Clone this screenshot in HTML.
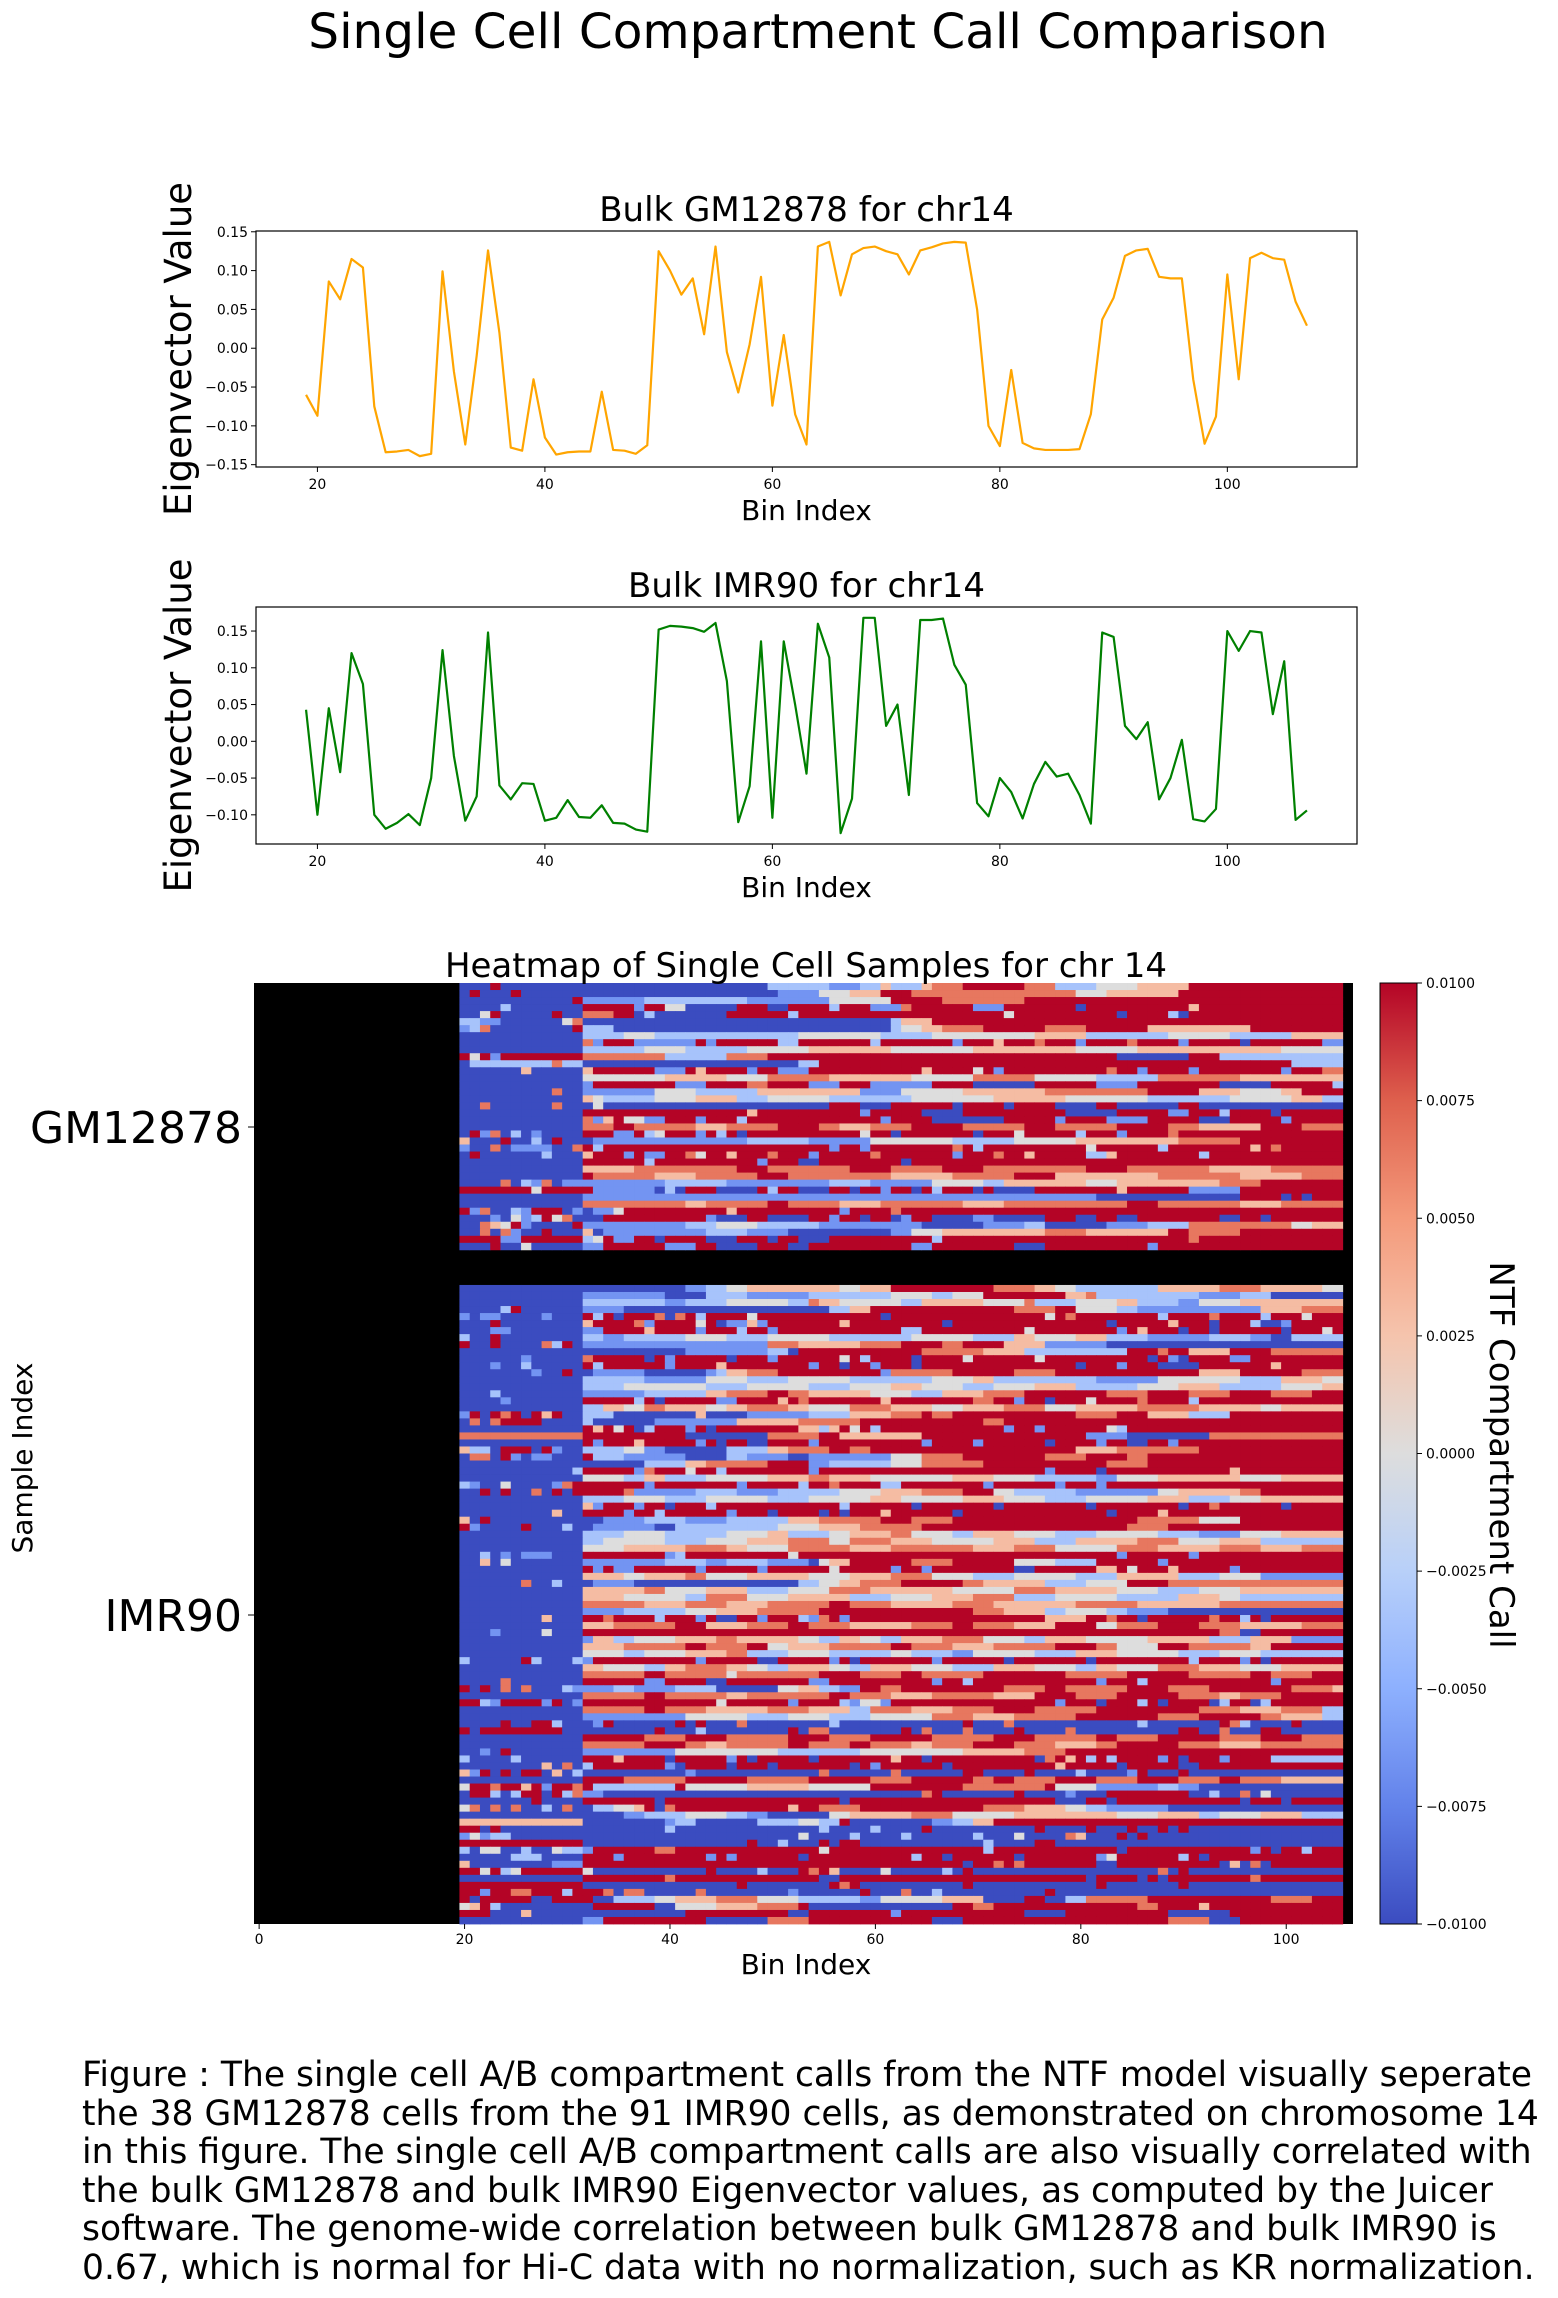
<!DOCTYPE html>
<html><head><meta charset="utf-8">
<style>
html,body{margin:0;padding:0;background:#fff;}
svg{display:block;font-family:"DejaVu Sans","Liberation Sans",sans-serif;}
</style></head>
<body>
<svg id="fig" width="1558" height="2298" viewBox="0 0 1558 2298" xmlns="http://www.w3.org/2000/svg">
<rect x="0" y="0" width="1558" height="2298" fill="#fff"/>
<text x="818" y="48" font-size="48.5" text-anchor="middle">Single Cell Compartment Call Comparison</text>
<g id="c1"></g>
<g id="c2"></g>
<g id="hm"></g>
<g id="cb"></g>
<g font-size="34.5">
<text x="82" y="2086">Figure : The single cell A/B compartment calls from the NTF model visually seperate</text>
<text x="82" y="2125">the 38 GM12878 cells from the 91 IMR90 cells, as demonstrated on chromosome 14</text>
<text x="82" y="2163">in this figure. The single cell A/B compartment calls are also visually correlated with</text>
<text x="82" y="2202">the bulk GM12878 and bulk IMR90 Eigenvector values, as computed by the Juicer</text>
<text x="82" y="2240">software. The genome-wide correlation between bulk GM12878 and bulk IMR90 is</text>
<text x="82" y="2279">0.67, which is normal for Hi-C data with no normalization, such as KR normalization.</text>
</g>
</svg>
<script>
const binsStart = 19;
const gmValues = [-0.06,-0.087,0.086,0.063,0.115,0.104,-0.075,-0.134,-0.133,-0.131,-0.139,-0.136,0.099,-0.03,-0.124,-0.01,0.126,0.02,-0.128,-0.132,-0.04,-0.115,-0.137,-0.134,-0.133,-0.133,-0.056,-0.131,-0.132,-0.136,-0.125,0.125,0.1,0.069,0.09,0.018,0.131,-0.005,-0.057,0.005,0.092,-0.074,0.017,-0.085,-0.124,0.131,0.137,0.068,0.121,0.129,0.131,0.125,0.121,0.095,0.126,0.13,0.135,0.137,0.136,0.05,-0.1,-0.126,-0.028,-0.122,-0.129,-0.131,-0.131,-0.131,-0.13,-0.085,0.037,0.065,0.119,0.126,0.128,0.092,0.09,0.09,-0.04,-0.123,-0.088,0.095,-0.04,0.116,0.123,0.116,0.114,0.06,0.029];
const imrValues = [0.043,-0.1,0.045,-0.042,0.12,0.078,-0.1,-0.119,-0.111,-0.099,-0.114,-0.05,0.124,-0.02,-0.108,-0.075,0.148,-0.06,-0.079,-0.057,-0.058,-0.108,-0.104,-0.08,-0.103,-0.104,-0.087,-0.111,-0.112,-0.12,-0.123,0.152,0.157,0.156,0.154,0.149,0.161,0.082,-0.11,-0.061,0.136,-0.104,0.136,0.05,-0.044,0.16,0.114,-0.125,-0.078,0.168,0.168,0.021,0.05,-0.073,0.165,0.165,0.167,0.104,0.077,-0.084,-0.102,-0.05,-0.069,-0.105,-0.058,-0.028,-0.048,-0.044,-0.073,-0.112,0.148,0.142,0.021,0.003,0.026,-0.079,-0.05,0.002,-0.106,-0.109,-0.092,0.15,0.123,0.15,0.148,0.037,0.109,-0.107,-0.094];
const lineXTicks = [20,40,60,80,100];
const gmYTicks = [-0.15,-0.10,-0.05,0.00,0.05,0.10,0.15];
const imrYTicks = [-0.10,-0.05,0.00,0.05,0.10,0.15];
const heatXTicks = [0,20,40,60,80,100];
const cbTicks = [-0.01,-0.0075,-0.005,-0.0025,0,0.0025,0.005,0.0075,0.01];
const codeValues = {B:-0.01,b:-0.0065,l:-0.0035,w:0,p:0.003,o:0.0065,R:0.01};
const gmRows = [
"B3 R1 B26 l6 b3 l2 p1 l3 p1 o3 R6 o3 l4 w4 p5 R15",
"B1 R1 B3 R1 B25 b4 w3 p3 R3 o16 w3 p7 R16",
"B11 R1 b6 l10 b8 w6 R5 o8 R31",
"B4 l1 B7 R5 b1 R2 w2 B5 R3 B2 R4 l1 R3 b3 o1 R4 R2 b3 R7 B1 R10 p1 R14",
"B2 w1 R1 B5 R1 B2 o3 R2 B1 l1 B7 R6 l1 R20 w1 R10 B1 R4 l1 B1 R14",
"l2 b2 B6 w1 o1 B30 l1 p3 R41",
"b1 l1 o1 B8 R1 l3 B27 l1 w2 p2 o4 R6 o4 R6 p10 R9",
"B12 l4 w3 l14 w8 l5 w10 p5 l8 w6 l6 p5",
"B12 o1 b1 R3 b6 R1 b1 R6 l2 R7 l1 R7 b1 R3 p1 R3 o1 R3 b1 R4 o1 R4 b1 R5 B1 R7 b1",
"B12 l6 w4 l6 w6 p8 w8 p10 w6 p14 w6",
"R1 w1 R1 b1 R8 o8 l6 o4 R34 B7 R3 l12",
"B1 l8 o1 l2 B21 l2 R46 l5",
"B6 p1 B5 p1 R6 b3 R1 p1 R4 b1 R2 b3 R11 p1 R4 w1 R1 b1 R10 o1 R2 b1 R4 b1 R8 b1 R3 o1",
"B12 w8 p6 w4 o6 p8 w6 o6 w6 l6 o8 p10",
"B12 b1 R8 b3 R4 o2 R4 b3 R3 b6 R4 B6 R6 b4 R8 B5 R6 l1",
"B9 o1 B2 b7 w4 l6 p10 b4 w6 p8 o10 R5 p4 w4 p2 R4",
"B12 p1 w1 l5 w4 p4 l3 w6 l8 w8 p7 w8 l8 w6 p3 l2",
"B2 o1 B1 B5 o1 B2 B1 w1 B22 R3 B3 R6 B1 R4 B1 R4 B4 R2 B6 R2 B14",
"B12 R16 p1 R10 b1 R5 B4 R10 B5 R5 b2 R3 l1 R4 B1 R6",
"B12 o1 b1 p1 R1 w2 b2 R3 b1 R3 l1 R13 b1 R4 B7 R5 b1 R4 b4 R5 B3 R5 b1 R5",
"B12 o3 R2 o6 p3 o5 R4 o2 p3 o4 R5 o6 R3 o6 R5 o3 p6 R4 o4",
"B1 R1 b1 o1 B1 l1 B1 b1 B4 R3 b2 R1 l1 w1 R3 b1 R1 l1 R1 B1 R11 w1 R2 B1 R7 B1 R3 w1 R5 l1 R3 b1 R4 o1 R11",
"p1 B3 R1 B2 l1 B1 R1 B3 b15 l6 b6 w8 l6 w6 p10 o6 R11 o5 R6",
"b1 B2 o1 B1 b4 B2 o1 R1 l1 R22 b1 R2 b1 R8 o1 R1 l1 R10 w1 R6 l1 R8 p1 R1 o1 R5",
"B1 R1 B6 l1 B3 p1 R3 b1 R1 b2 R2 o1 w1 R2 p1 R3 o1 R3 b1 R5 o1 R7 b1 R3 o1 R2 p1 R5 l2 p1 R8 l1 R5",
"B12 R6 l1 R10 b1 R3 B2 R8 B1 R43",
"B12 p5 o10 R3 o8 R4 o5 R4 o10 R4 o8 p6 o7",
"B12 R1 o6 p4 o6 R3 o10 p6 o6 R4 p10 o8 p6 o4",
"B4 o1 B1 l1 b1 o1 B1 b2 b8 l6 b10 l4 b6 w5 l2 p8 w3 p10 o4 R3",
"R7 w1 R5 b6 B1 l1 B1 R3 B4 R1 l1 R2 B3 R2 B1 R2 b1 R2 B1 R1 l1 R3 B1 R1 B4 R8 p1 R6 b5 R6",
"B12 b50 B14 R4 B1 R1 B1 R3",
"B12 o10 p2 o6 R2 o5 p4 o8 p4 o12 R3 o8 p4 o6",
"R1 b1 o1 B2 l1 b1 R3 B1 b1 B1 b2 w1 R10 p1 R10 b1 R4 o1 R41",
"B3 b1 B1 w1 b1 l1 R1 w1 o1 B1 B2 R2 R8 b1 B3 R2 B4 R2 b1 R2 B1 R2 B1 b1 R2 B4 b2 B5 R3 B2 R2 B2 R8 B2 R2 B1 R8",
"B2 o1 p1 w1 R1 b1 B4 R1 b10 l3 w4 l6 b10 B6 b4 l2 B6 b4 l4 o10 w2 p4",
"B2 o1 B1 o1 b1 B2 R1 B3 p1 B1 b10 l4 b4 B10 b2 w3 p10 o4 p8 R2 o5 R7",
"R4 b2 R6 l1 w1 R1 b2 R2 B1 R4 B3 R3 B1 R2 B3 R10 l1 R24 o1 R10",
"B3 R1 B2 w1 B5 b2 R6 b3 R2 B4 R3 B2 R10 b2 R8 B3 R10 b1 R20"
];
const imrRows = [
"B12 B10 b2 l2 w2 p9 w2 p3 R10 o4 p2 w2 l8 p6 o4 p6 w6 l2",
"B12 b8 B4 l4 b6 l8 w4 l2 w3 R8 p2 o1 l10 b4 l3 B7",
"B12 l8 b2 l4 w6 l2 o1 p2 w6 l2 p6 w4 o1 l4 w4 p2 l4 b2 w4 p4 p6",
"B4 l1 R1 B6 b4 B20 l2 p2 R14 o4 R2 w4 l2 b12 p4 o4",
"b1 B1 b2 B4 b1 B3 R1 l1 R1 B1 R3 o1 B1 o1 R1 l1 R4 w1 R12 B1 R15 w1 R1 o1 R8 l1 R4 o1 R4 l1 R3 w1 R7",
"B3 R1 B8 p1 R4 o1 b1 R4 w1 R1 B1 b2 p1 b1 R7 p1 R9 B1 R15 B1 R5 p1 R3 B1 R3 l1 B2 b1 R5",
"B3 b2 B7 b2 R4 p1 R4 b1 R3 l1 R2 b1 R12 l2 R10 w1 R8 b1 R1 p1 R3 B1 R2 B1 R6 B1 R3 w1 R1 B1 R1 p1 R2",
"l1 B2 R1 B8 l2 b2 l6 w4 l4 w6 l8 w6 l4 p2 w4 p3 l4 b6 l4 b2 B2 l5",
"R1 B2 R1 B4 o1 l1 R1 B1 b18 o3 p6 o4 R4 o2 R4 p4 b6 B25",
"B12 B10 b8 l2 B1 R12 o6 p4 l10 R3 o1 R2 p4 R4 o7",
"B6 b1 B5 o1 R5 B1 R1 b1 R5 B1 R3 b1 R6 w1 R1 l1 R4 B1 R4 w1 R6 w1 R10 B1 R1 b1 B1 R4 b2 R10 b1 R3 B1",
"B3 b1 B2 l1 B5 R1 l1 R6 b1 R4 p1 R8 b1 R2 B1 R2 b1 R3 B1 R15 B1 R3 b1 R3 B4 R7 p1 R5",
"B7 b1 B2 R1 B2 b5 B6 b1 l1 p2 o3 R10 b1 o6 R6 o4 R14 p4 R6 o4",
"B12 l6 b6 w4 l4 w6 l8 w4 p2 l10 b6 w8 l4 p4 w2",
"B12 l4 w8 l4 w6 l4 w4 p3 w4 l3 w4 p4 l6 w4 p4 l6 w4 p2",
"B3 l1 B8 b6 l6 p2 o4 R2 o2 p6 w4 l3 p4 o4 R8 o4 R4 o4 R4 o4 R3",
"B4 b1 B7 R5 l1 R1 B1 R5 b2 R4 p1 R1 o1 R7 p1 R8 o2 R2 b1 R2 B1 R3 w1 R4 o1 R4 l1 R4",
"B12 l2 p2 w2 o2 p4 w2 p2 o4 p2 w4 o4 p4 w3 p4 o4 w3 p6 o6 p6 w2 p6",
"b1 R1 B1 R1 o1 R1 B1 R1 p1 R1 B2 l3 B8 p1 B4 b6 l4 p4 o3 R1 o2 R12 o4 R3 p4 l4 R10",
"B1 o1 B1 o1 R4 B4 l1 B6 b8 p6 o6 R12 o2 R33",
"B12 R1 p1 R1 w1 R1 B1 l1 R3 b1 R1 B1 R8 p2 l1 p1 R1 w1 R1 l1 R12 b1 R2 b1 R6 w1 l1 R12",
"o12 R10 B8 o5 R2 p8 R16 b4 B8 o13",
"B12 R1 b1 R3 p1 R5 b1 R1 B1 R2 B2 R4 b1 R10 b1 R4 b1 R6 B1 R4 b1 R2 B2 R2 b1 R12",
"p1 l2 B1 R3 B1 R1 b1 B2 l4 w2 b2 B6 l4 p2 o4 R2 o2 R20 p4 o8 R14",
"B1 o2 B1 R1 b1 B1 b2 B3 R1 l3 b6 B4 l2 b4 B2 b8 w3 o4 R8 o4 R4 o2 R19",
"B12 B6 l4 p2 o6 R4 b2 l6 w3 o6 R12 o4 R17",
"B11 l1 R5 b1 o1 R3 w1 R2 l1 R8 b1 R22 b1 R4 B1 R12 p1 R6",
"B12 w4 l2 p2 l4 w6 p4 o2 p4 w8 p4 w4 l6 b2 w4 p8 w4 p7",
"l1 b1 B2 w1 B4 b1 o1 R7 b1 R8 b1 R5 l1 R2 o1 R3 R1 l2 R8 b1 R6 b1 R3 b1 R25",
"B2 R1 B1 R1 B2 o1 B1 R1 B1 R5 o1 b6 l4 b4 l6 w4 p4 o4 R3 w2 l6 b8 w2 p6 o2 R6",
"B12 l4 w4 l4 w6 l4 w6 p3 w6 p4 w4 l4 w6 p4 l4 w3 p4",
"B12 p1 b1 R3 b1 R2 B1 R3 l1 R12 l1 R6 B1 R7 B1 R8 B1 R8 B1 R2 o1 R6 B1 R5",
"B9 p1 B2 R4 b1 R2 l1 R6 b1 R3 B1 R4 B1 R1 B1 R3 p1 R6 B1 R14 B1 R4 p1 R14",
"p1 B1 R1 B9 B2 b4 l4 b4 l6 p3 o6 R3 o4 R18 o6 w4 R10",
"R1 b1 B4 R1 B3 l1 B2 b6 B2 l10 w4 p4 o6 R20 o4 R17",
"B12 l4 w4 l6 w4 p2 l4 w2 p4 o2 w4 l2 p4 w4 l4 w6 l4 b4 w4 p4",
"B12 l2 w6 l4 w4 p4 o4 w2 o4 p4 w6 p4 l4 p6 o4 w4 p4 l4",
"B12 w4 p6 o4 p2 w4 o6 p4 o8 p4 o4 w6 o4 p6 o4 p4 o4",
"B2 l1 B1 b1 B1 b3 B3 R8 b1 l1 R10 w1 R19 R12 b1 R6 b1 R4",
"B2 p1 B1 w1 B7 b8 l4 b2 l4 b4 B1 w1 p2 R6 o4 R6 w4 l4 R6 b1 R22",
"B12 R1 b1 R1 b2 R6 b1 R5 b1 R6 w1 R5 b1 R2 b1 R8 B2 R6 p2 R1 w1 R3 p1 R5 b1 R3",
"B12 p4 w2 p4 o2 w4 p6 w4 p4 o4 w4 l4 w6 l4 p6 l4 w4 b2",
"B6 o1 B2 l1 B3 b4 B16 l2 w2 p2 o4 R6 o2 p6 l4 w4 R4 o18",
"B12 p6 o2 w4 p4 l4 w4 o4 p8 w6 o4 p6 w4 l4 w4 p4",
"B12 p4 w6 l2 o4 w4 p6 l4 w4 p4 o4 l4 w6 l6 p4 w2 l2",
"B12 o6 p4 o4 p4 o6 R2 o4 p6 o4 p8 o6 p8 o2",
"B12 b4 l6 w3 p4 o6 R15 o3 p4 l2 w4 l2 b4 B17",
"B8 p1 B3 R2 o1 R4 l1 R3 b1 R1 B2 R2 b1 R3 l1 b1 o1 R1 b1 R19 p4 R2 o1 R2 B1 R6 o1 R2 l1 R1 B1 R2",
"B12 p3 o6 R3 p4 o4 R2 o4 p6 o4 R2 o4 p4 R4 w2 o4 R4 o4 p6 o7",
"B3 b1 B4 w1 B3 R62 o2 B2 R9",
"B12 b1 p2 l2 w4 p4 o2 p6 w2 l2 p2 w2 l2 p4 o4 w4 l2 p4 w6 p6 l4 p4 b1",
"B12 p4 o6 R2 o4 R2 w2 p4 o6 R2 o4 p4 o6 R4 o2 w4 R3 o6 p2 R4",
"B12 w4 l2 w4 p4 o2 l4 w4 l6 w2 l4 b2 w6 l4 p4 w6 l4 w4 l2",
"l1 B5 R1 l1 B3 l1 b1 R10 b1 R5 B2 R5 b1 R1 B1 R7 b1 R6 B1 R7 B1 R9 l1 R4 b1 R1 B1 R15",
"B12 p2 w4 l2 p2 o4 p2 w2 l2 p4 w2 l2 p4 w4 l4 p4 w4 l2 p2 w4 o4 p4 w4 p2",
"B12 o6 R2 o6 w1 o8 R4 o4 R2 o6 R8 o6 R6 o6 R2 o4 R3",
"B4 o1 B7 R6 b2 R4 B2 R8 b2 R10 b1 R2 l1 R12 b1 R3 l1 R12 b1 R6 B2",
"R1 B1 R1 B1 o1 B1 o1 B3 l1 b4 l2 b4 l4 B6 w2 p2 l2 b2 R2 o2 R10 o4 R2 o6 R4 o4 R8 o4 p4",
"B12 o6 R2 o6 p2 o8 R2 o4 p4 o6 p4 R4 o4 R6 o4 p2 o4 R4",
"R2 l1 b1 R4 b1 R1 B1 b1 R13 w1 R6 b1 R4 l1 b1 w2 b1 R16 b1 R3 B1 R3 l1 R1 B1 R4 B1 l1 R2 B1 l1 R8",
"B12 o6 R2 o4 p6 o4 p4 l2 o4 p4 o4 R4 o6 R2 R8 o4 p4 o4 l2",
"B12 b10 w6 l4 w4 l4 w6 o4 p4 o6 R8 o4 R6 o2 p4 l2",
"B4 R1 B2 R2 l1 B3 b1 R1 B6 R1 B1 R1 B3 o1 B8 l1 B12 R1 B3 o1 B4 B8 l1 B7 R1 o1 l1 B4 R1 B5",
"R1 B1 R8 B2 B7 R1 B3 l1 B8 R1 B1 o2 B7 R1 B1 o1 B3 o1 B4 R1 B4 o1 B10 R2 B2 o1 B3 R2 B4",
"B12 R6 o4 R4 o6 R4 o4 R6 o6 R4 o6 R2 o4 R6 o4 R4 o4",
"B12 o6 R4 o2 p2 o6 R2 o4 R2 o4 p2 o4 R4 o4 p4 o2 R6 o4 p4 o2",
"B2 b1 B1 R1 B7 b9 w10 l8 w10 p6 o4 R27",
"l1 B4 l1 B6 R3 p1 R4 B1 R5 b1 R1 B1 R5 B1 R7 p1 R2 B1 R10 B1 o1 R1 p1 R1 l1 R1 l1 R4 b1 R1 B1 R3 b1 R4 l1",
"B8 p1 B1 o1 B1 l1 R7 b1 B1 R4 B1 R3 B1 R7 B1 R1 b1 R6 B1 R10 p1 R5 B1 R5 B2 R9",
"p1 b1 R1 B1 R1 B1 R2 B1 p1 B1 l1 B10 b1 B12 o1 B6 o1 B6 R2 B4 R1 B4 l1 B4 b1 R1 B3 R1 B6",
"B12 R4 o6 R6 o6 R6 o4 R6 o2 R2 o4 R4 o4 R4 o4 R2 o4 p2",
"w1 R2 o1 R2 p1 R1 b1 R2 o1 R1 l8 R1 w6 p6 w6 R9 o8 R1 w4 b6 l2 b2 B10",
"B1 R2 l1 B1 l1 R2 B1 R1 l1 o1 b2 B7 B24 o1 R1 B7 R1 B4 b1 B3 R8 B2 l1 B2 o1 B1 w1 B4",
"B7 R1 B4 R7 B1 R17 B1 R20 B3 R2 B1 R12 B1 R3 B1 R6 B1",
"w1 o1 B1 o1 B1 o1 B2 l1 B1 o1 B2 l2 w2 p1 R1 B1 o1 R11 p1 R2 o4 R12 o4 p4 w2 l2 b6 B12",
"B12 B4 b2 l4 w4 l2 b2 B6 w2 p6 o4 w6 p10 w4 p4 l2 w4 p4 l2",
"p12 B8 b1 l2 B6 l4 w2 l2 R1 B8 b2 l2 p2 R36",
"R2 B1 R1 B8 B8 l1 B14 l1 B4 l1 B4 R1 B10 R1 B4 R1 B3 R1 B2 R1 B1 R1 B2",
"b1 w1 b1 l2 B6 B12 B10 w1 B4 l1 B4 l1 B6 l1 B3 w1 B4 o1 p1 B3 R1 B1 R1 B15",
"R12 B16 R1 B2 l1 B3 R1 B1 R2 B12 l1 B4 R2 B28",
"l1 B1 w2 B2 l1 B2 w1 l2 b1 R6 o2 R14 w1 R15 l1 R12 B1 R12 b1 R1 B1 R2 l1 R1",
"B5 l3 B4 R3 b1 R8 b1 R1 b1 R6 B1 R10 l1 R2 B1 R6 B1 R7 b1 w1 R6 l1 R1 B1 R11",
"p1 B8 b3 R37 B1 R2 o1 R1 o1 R7 B2 R10 B1 p1 B1 o1 B1 R4 R4",
"R2 w1 R1 l1 w1 R6 w1 B11 R1 B4 l1 B3 R1 o1 R1 p1 B4 w1 B5 l1 B1 R1 B18 o1 B1 R1 B14",
"B12 R8 o1 R14 B2 R1 R23 B1 R4 B1 R1 B1 R8 o1 R8",
"R12 B15 R1 B8 R1 o1 R1 B10 R1 B12 R1 B7 R1 B15",
"R2 b1 R2 o2 R3 l1 R3 o1 B1 o2 B5 o1 B8 b1 B6 R1 B3 o1 B2 l1 B10 R1 B30",
"R1 B1 R5 B2 R4 B2 l4 w2 p4 o4 w4 l6 b2 w6 p4 B4 R2 B2 l2 o2 o4 R12 o4 R6",
"w1 p1 R1 l1 B5 B4 R6 B2 w4 p4 o4 R1 B14 R2 o2 R14 o2 R4 p1 R13",
"R3 B3 p1 B5 B10 R10 B2 R8 b1 R12 B4 R10 B6 R11",
"B12 b2 R10 B6 o4 R12 B3 R20 o4 B3 R10"
];
</script>
<script>
const NS = "http://www.w3.org/2000/svg";
function mk(parent, tag, attrs, text){
  const e = document.createElementNS(NS, tag);
  for (const k in attrs) e.setAttribute(k, attrs[k]);
  if (text !== undefined) e.textContent = text;
  parent.appendChild(e);
  return e;
}
function fmt(v, d){ const s = Math.abs(v).toFixed(d); return (v < -1e-12 ? "\u2212" : "") + s; }

function lineChart(g, vals, color, box, ylim, yticks, title){
  const xmin = 14.6, xmax = 111.4;
  const xs = v => box.l + (v - xmin) / (xmax - xmin) * (box.r - box.l);
  const ys = v => box.b - (v - ylim[0]) / (ylim[1] - ylim[0]) * (box.b - box.t);
  const pts = vals.map((v, i) => xs(binsStart + i).toFixed(2) + "," + ys(v).toFixed(2)).join(" ");
  const pl = mk(g, "polyline", {points: pts, fill: "none", stroke: color, "stroke-width": 2.2, "stroke-linejoin": "round"});
  
  
  const fr = mk(g, "rect", {x: box.l, y: box.t, width: box.r - box.l, height: box.b - box.t, fill: "none", stroke: "#000", "stroke-width": 1.2});
  
  
  lineXTicks.forEach(t => {
    const x = xs(t);
    mk(g, "line", {x1: x, x2: x, y1: box.b, y2: box.b + 5, stroke: "#000", "stroke-width": 1});
    const tl = mk(g, "text", {x: x, y: box.b + 22, "font-size": 14, "text-anchor": "middle"}, String(t));
    
    
  });
  yticks.forEach(t => {
    const y = ys(t);
    mk(g, "line", {x1: box.l - 5, x2: box.l, y1: y, y2: y, stroke: "#000", "stroke-width": 1});
    const tl = mk(g, "text", {x: box.l - 8, y: y + 5, "font-size": 14, "text-anchor": "end"}, fmt(t, 2));
    
    
  });
  const tt = mk(g, "text", {x: (box.l + box.r) / 2, y: box.t - 10, "font-size": 34, "text-anchor": "middle"}, title);
  
  
  const xl = mk(g, "text", {x: (box.l + box.r) / 2, y: box.b + 53, "font-size": 28, "text-anchor": "middle"}, "Bin Index");
  
  
  const cy = (box.t + box.b) / 2;
  const yl = mk(g, "text", {x: 0, y: 0, "font-size": 37, "text-anchor": "middle", transform: "translate(191," + cy + ") rotate(-90)"}, "Eigenvector Value");
  
  
}
lineChart(document.getElementById("c1"), gmValues, "#ffa500", {l: 256, r: 1357, t: 231, b: 467}, [-0.153, 0.151], gmYTicks, "Bulk GM12878 for chr14");
lineChart(document.getElementById("c2"), imrValues, "#008000", {l: 256, r: 1357, t: 607, b: 844}, [-0.1397, 0.1827], imrYTicks, "Bulk IMR90 for chr14");

const cw = [[59,76,192],[98,130,234],[141,176,254],[184,208,249],[221,221,221],[245,196,173],[244,154,123],[222,96,77],[180,4,38]];
function cmap(v){
  let t = (v + 0.01) / 0.02; t = Math.max(0, Math.min(1, t));
  const p = t * 8, i = Math.min(7, Math.floor(p)), f = p - i;
  const a = cw[i], b = cw[i + 1];
  return "rgb(" + [0,1,2].map(k => Math.round(a[k] + (b[k] - a[k]) * f)).join(",") + ")";
}
function decode(s){
  const out = [];
  s.trim().split(/\s+/).forEach(tok => {
    const c = tok[0], n = parseInt(tok.slice(1), 10);
    for (let i = 0; i < n; i++) out.push(codeValues[c]);
  });
  while (out.length < 86) out.push(out[out.length - 1]);
  return out.slice(0, 86);
}
const hm = document.getElementById("hm");
const H = {l: 254, r: 1353, t: 983, b: 1924};
const nCols = 107, nRows = 134;
const cx = c => H.l + (c + 0.5) / nCols * (H.r - H.l);
const cw_ = (H.r - H.l) / nCols;
const rh = (H.b - H.t) / nRows;
const bg = mk(hm, "rect", {x: H.l, y: H.t, width: H.r - H.l, height: H.b - H.t, fill: "#000"});


function drawRows(rows, startRow, count){
  for (let r = 0; r < count; r++){
    const vals = decode(rows[Math.min(r, rows.length - 1)]);
    const y = H.t + (startRow + r) * rh;
    vals.forEach((v, j) => {
      const c = 20 + j;
      const cell = mk(hm, "rect", {x: (cx(c) - cw_ / 2).toFixed(2), y: y.toFixed(2), width: (cw_ + 0.4).toFixed(2), height: (rh + 0.4).toFixed(2), fill: cmap(v)});
      
      
    });
  }
}
drawRows(gmRows, 0, 38);
drawRows(imrRows, 43, 91);
heatXTicks.forEach(t => {
  const x = cx(t);
  mk(hm, "line", {x1: x, x2: x, y1: H.b, y2: H.b + 5, stroke: "#000", "stroke-width": 1});
  const tl = mk(hm, "text", {x: x, y: H.b + 20, "font-size": 14, "text-anchor": "middle"}, String(t));
  
  
});
[["GM12878", 1127],["IMR90", 1615]].forEach(([lab, y]) => {
  mk(hm, "line", {x1: H.l - 6, x2: H.l, y1: y, y2: y, stroke: "#000", "stroke-width": 1});
  const tl = mk(hm, "text", {x: H.l - 12, y: y + 16, "font-size": 44, "text-anchor": "end"}, lab);
  
  
});
const ht = mk(hm, "text", {x: 806, y: 977, "font-size": 34, "text-anchor": "middle"}, "Heatmap of Single Cell Samples for chr 14");


const hx = mk(hm, "text", {x: 806, y: 1974, "font-size": 28, "text-anchor": "middle"}, "Bin Index");


const hy = mk(hm, "text", {x: 0, y: 0, "font-size": 28, "text-anchor": "middle", transform: "translate(32,1458) rotate(-90)"}, "Sample Index");



const cb = document.getElementById("cb");
const C = {l: 1380, r: 1417, t: 983, b: 1924};
const defs = mk(cb, "defs", {});
const grad = mk(defs, "linearGradient", {id: "cwg", x1: 0, y1: 1, x2: 0, y2: 0});
for (let i = 0; i <= 16; i++){
  const v = -0.01 + 0.02 * i / 16;
  mk(grad, "stop", {offset: (i / 16).toFixed(4), "stop-color": cmap(v)});
}
const cr = mk(cb, "rect", {x: C.l, y: C.t, width: C.r - C.l, height: C.b - C.t, fill: "url(#cwg)", stroke: "#000", "stroke-width": 1});


const cys = v => C.b - (v + 0.01) / 0.02 * (C.b - C.t);
cbTicks.forEach(t => {
  const y = cys(t);
  mk(cb, "line", {x1: C.r, x2: C.r + 5, y1: y, y2: y, stroke: "#000", "stroke-width": 1});
  const tl = mk(cb, "text", {x: C.r + 9, y: y + 5, "font-size": 14}, fmt(t, 4));
  
  
});
const cl = mk(cb, "text", {x: 0, y: 0, "font-size": 34, "text-anchor": "middle", transform: "translate(1490,1455) rotate(90)"}, "NTF Compartment Call");


</script>
</body></html>
